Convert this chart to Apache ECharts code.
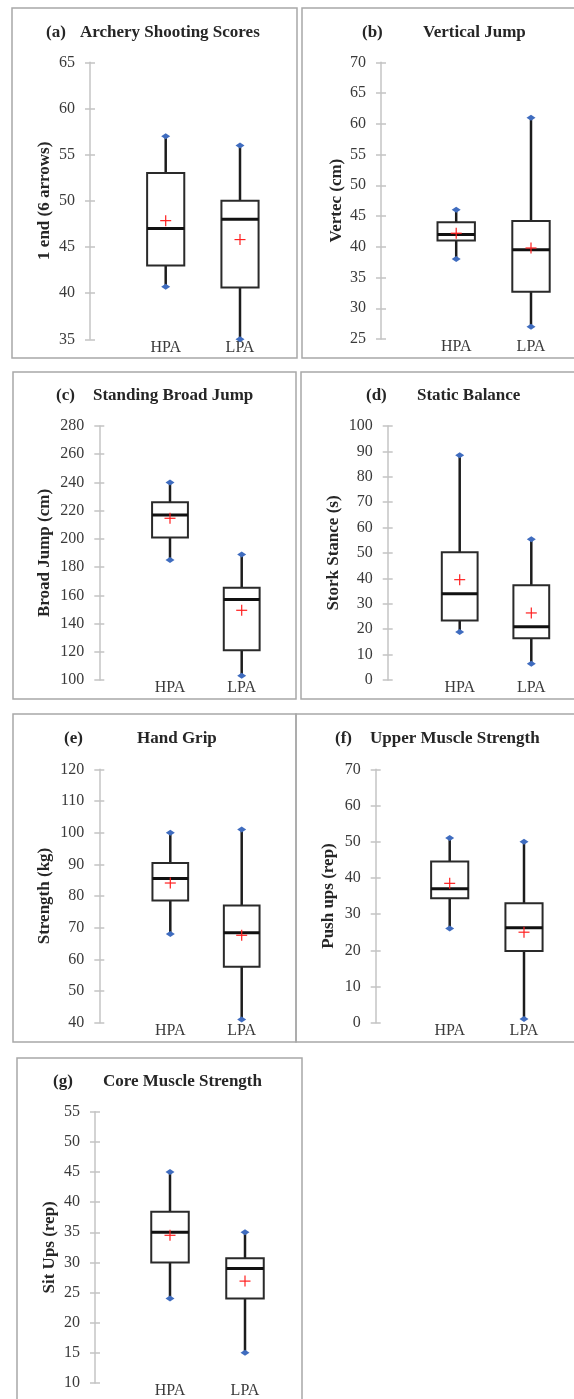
<!DOCTYPE html>
<html>
<head>
<meta charset="utf-8">
<script src="https://cdn.jsdelivr.net/npm/echarts@6/dist/echarts.min.js"></script>
<style>
  html, body { margin: 0; padding: 0; background: #ffffff; }
  #chart { width: 574px; height: 1399px; }
</style>
</head>
<body>
<div id="chart"></div>
<script>
// ---------------- DATA ----------------
const categories = ['HPA', 'LPA'];
const panelLetters = ['(a)', '(b)', '(c)', '(d)', '(e)', '(f)', '(g)'];
const panelTitles = ['Archery Shooting Scores', 'Vertical Jump', 'Standing Broad Jump', 'Static Balance',
  'Hand Grip', 'Upper Muscle Strength', 'Core Muscle Strength'];
const axisTitles = ['1 end (6 arrows)', 'Vertec (cm)', 'Broad Jump (cm)', 'Stork Stance (s)',
  'Strength (kg)', 'Push ups (rep)', 'Sit Ups (rep)'];
const yMin = [35, 25, 100, 0, 40, 0, 10];
const yMax = [65, 70, 280, 100, 120, 70, 55];
const yInterval = [5, 5, 20, 10, 10, 10, 5];

// per panel: [HPA, LPA]
const minVals    = [[40.7, 35],   [38, 27],     [185, 103],   [18.9, 6.4],  [68, 41],     [26, 1],      [24, 15]];
const q1Vals     = [[43, 40.6],   [41, 32.7],   [201, 121],   [23.4, 16.4], [78.6, 57.7], [34.4, 19.8], [30, 24]];
const medianVals = [[47, 48],     [42, 39.5],   [217, 157],   [34, 21],     [85.5, 68.4], [37, 26.2],   [35, 29]];
const q3Vals     = [[53, 50],     [44, 44.2],   [226, 165.4], [50.3, 37.3], [90.4, 77],   [44.5, 33],   [38.4, 30.7]];
const maxVals    = [[57, 56],     [46, 61],     [240, 189],   [88.5, 55.4], [100, 101],   [51, 50],     [45, 35]];
const meanVals   = [[47.85, 45.8],[42.2, 39.8], [214.6, 149.4],[39.5, 26.4],[84.1, 67.6], [38.5, 25],   [34.5, 26.9]];

// ---------------- LAYOUT ----------------
const axisX = [90, 381, 99.3, 387.7, 99.3, 375.7, 95];
const gridTop = [62.3, 62.3, 426, 426, 769.3, 769.3, 1111.7];
const gridBottomY = [339.3, 339, 680, 680, 1022.7, 1022.7, 1386.7];
const firstCenter = [165.7, 456.2, 170, 459.7, 170.3, 449.7, 170];
const catWidth = [74.3, 74.8, 71.7, 71.6, 71.4, 74.3, 75];
const nameGaps = [37, 36, 46, 46, 46, 39, 37];
const frames = [
  [12, 8, 285, 350], [302, 8, 300, 350],
  [13, 372, 283, 327], [301, 372, 300, 327],
  [13, 714, 283, 328], [296, 714, 300, 328],
  [17, 1058, 285, 400]
];
const letterPos = [[46, 33], [362, 33], [56, 396], [366, 396], [64, 739], [335, 739], [53, 1082]];
const titlePos = [[80, 33], [423, 33], [93, 396], [417, 396], [137, 739], [370, 739], [103, 1082]];

const FONT = "'Liberation Serif', 'Times New Roman', serif";

function renderItem(params, api) {
  const x = api.value(0);
  const pMin = api.coord([x, api.value(1)]);
  const pQ1 = api.coord([x, api.value(2)]);
  const pMed = api.coord([x, api.value(3)]);
  const pQ3 = api.coord([x, api.value(4)]);
  const pMax = api.coord([x, api.value(5)]);
  const pMean = api.coord([x, api.value(6)]);
  const bw = api.size([1, 0])[0] * 0.5;
  const cx = pMed[0];
  const h = bw / 2;
  const dark = '#1c1c1c';
  const diamond = (y) => ({
    type: 'polygon',
    shape: { points: [[cx - 4.5, y], [cx, y - 3], [cx + 4.5, y], [cx, y + 3]] },
    style: { fill: '#3f6cbf' }
  });
  return {
    type: 'group',
    children: [
      { type: 'line', shape: { x1: cx, y1: pQ3[1], x2: cx, y2: pMax[1] }, style: { stroke: dark, lineWidth: 2.5 } },
      { type: 'line', shape: { x1: cx, y1: pQ1[1], x2: cx, y2: pMin[1] }, style: { stroke: dark, lineWidth: 2.5 } },
      { type: 'rect', shape: { x: cx - h, y: pQ3[1], width: bw, height: pQ1[1] - pQ3[1] },
        style: { fill: 'none', stroke: '#2a2a2a', lineWidth: 2 } },
      { type: 'line', shape: { x1: cx - h, y1: pMed[1], x2: cx + h, y2: pMed[1] }, style: { stroke: '#111111', lineWidth: 3 } },
      diamond(pMax[1]),
      diamond(pMin[1]),
      { type: 'line', shape: { x1: pMean[0] - 5.5, y1: pMean[1], x2: pMean[0] + 5.5, y2: pMean[1] }, style: { stroke: '#ff1f1f', lineWidth: 1.2 } },
      { type: 'line', shape: { x1: pMean[0], y1: pMean[1] - 5.5, x2: pMean[0], y2: pMean[1] + 5.5 }, style: { stroke: '#ff1f1f', lineWidth: 1.2 } }
    ]
  };
}

const grids = [], xAxes = [], yAxes = [], series = [], graphics = [];
for (let i = 0; i < 7; i++) {
  const left = firstCenter[i] - catWidth[i] / 2;
  grids.push({ left: left, top: gridTop[i], width: 2 * catWidth[i], height: gridBottomY[i] - gridTop[i] });
  xAxes.push({
    type: 'category', gridIndex: i, data: categories, boundaryGap: true,
    axisLine: { show: false }, axisTick: { show: false },
    axisLabel: { margin: 0, fontSize: 16, color: '#3a3a3a', fontFamily: FONT }
  });
  const offset = left - axisX[i];
  yAxes.push({
    type: 'value', gridIndex: i, position: 'left', min: yMin[i], max: yMax[i], interval: yInterval[i], offset: offset,
    name: axisTitles[i], nameLocation: 'middle', nameGap: nameGaps[i],
    nameTextStyle: { fontFamily: FONT, fontWeight: 'bold', fontSize: 17, color: '#262626' },
    axisLine: { show: true, lineStyle: { color: '#c4c4c4', width: 1.5 } },
    axisTick: { show: true, length: 5, lineStyle: { color: '#c4c4c4', width: 1.5 } },
    axisLabel: { margin: 15, fontSize: 16, color: '#3a3a3a', fontFamily: FONT },
    splitLine: { show: false }
  });
  yAxes.push({
    type: 'value', gridIndex: i, position: 'left', min: yMin[i], max: yMax[i], interval: yInterval[i], offset: offset,
    axisLine: { show: false },
    axisTick: { show: true, inside: true, length: 5, lineStyle: { color: '#c4c4c4', width: 1.5 } },
    axisLabel: { show: false }, splitLine: { show: false }
  });
  const data = categories.map((c, k) => [k, minVals[i][k], q1Vals[i][k], medianVals[i][k], q3Vals[i][k], maxVals[i][k], meanVals[i][k]]);
  series.push({
    type: 'custom', xAxisIndex: i, yAxisIndex: 2 * i, data: data, renderItem: renderItem,
    clip: false, silent: true, z: 5
  });
  const f = frames[i];
  graphics.push({
    type: 'rect', shape: { x: f[0], y: f[1], width: f[2], height: f[3] },
    style: { fill: 'none', stroke: '#a8a8a8', lineWidth: 1.5 }, silent: true, z: 0
  });
  graphics.push({
    type: 'text', x: letterPos[i][0], y: letterPos[i][1],
    style: { text: panelLetters[i], font: "bold 17px " + FONT, fill: '#262626', verticalAlign: 'middle', align: 'left' }
  });
  graphics.push({
    type: 'text', x: titlePos[i][0], y: titlePos[i][1],
    style: { text: panelTitles[i], font: "bold 17px " + FONT, fill: '#262626', verticalAlign: 'middle', align: 'left' }
  });
}

const chart = echarts.init(document.getElementById('chart'), null, { renderer: 'canvas' });
chart.setOption({
  backgroundColor: '#ffffff',
  animation: false,
  grid: grids,
  xAxis: xAxes,
  yAxis: yAxes,
  series: series,
  graphic: graphics
});
</script>
</body>
</html>
